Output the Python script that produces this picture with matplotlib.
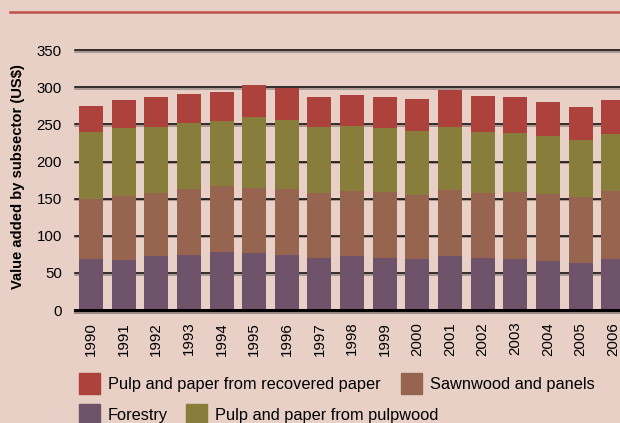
import matplotlib
matplotlib.use("Agg")
import matplotlib.pyplot as plt
import matplotlib.patheffects as pe
from matplotlib.lines import Line2D
from matplotlib.patches import Rectangle
import numpy as np

plt.rcParams["font.family"] = ["Liberation Sans", "DejaVu Sans"]

years = [str(y) for y in range(1990, 2007)]
forestry = [68.7, 67.4, 72.8, 74.1, 78.2, 76.8, 74.1, 70.1, 72.8, 70.1,
            68.7, 72.8, 70.1, 68.7, 66.0, 63.3, 68.7]
sawnwood = [80.9, 86.7, 84.9, 89.0, 88.9, 87.6, 89.0, 87.6, 87.6, 88.9,
            86.3, 88.9, 87.6, 90.3, 90.3, 89.0, 91.7]
pulpwood = [90.7, 91.2, 88.9, 88.9, 87.6, 95.7, 92.9, 88.9, 87.6, 86.3,
            86.2, 84.9, 82.2, 79.5, 78.2, 76.8, 76.8]
recovered = [34.6, 37.7, 40.4, 39.0, 39.1, 43.1, 43.6, 40.4, 41.7, 41.7,
             43.1, 49.9, 48.5, 48.5, 45.8, 44.5, 45.8]
yticks = [0, 50, 100, 150, 200, 250, 300, 350]

series_names = ["Forestry", "Sawnwood and panels",
                "Pulp and paper from pulpwood", "Pulp and paper from recovered paper"]
colors = ["#6e536b", "#97654f", "#897d3b", "#ad413c"]
bg = "#e8d0c7"

fig = plt.figure(figsize=(6.2, 4.23), dpi=100, facecolor=bg)
ax = fig.add_axes([75 / 620, 113 / 423, 545 / 620, 259.8 / 423])
ax.set_facecolor(bg)

x = np.arange(len(years))
bottom = np.zeros(len(years))
for vals, col, name in zip([forestry, sawnwood, pulpwood, recovered], colors, series_names):
    ax.bar(x, vals, width=0.735, bottom=bottom, color=col, label=name, zorder=3)
    bottom += np.array(vals)

# gridlines with a small grey shadow underneath
shadow = [pe.SimpleLineShadow(offset=(0, -1.2), shadow_color="#7a6a66", alpha=0.7), pe.Normal()]
for t in yticks:
    ax.axhline(t, color="black", lw=2.2 if t == 0 else 1.1, zorder=1 if t else 4,
               clip_on=False, path_effects=shadow)

ax.set_xlim(-0.49, 16.21)
ax.set_ylim(0, 350)
ax.set_xticks(x)
ax.set_xticklabels(years, rotation=90, fontsize=10.8)
ax.set_yticks(yticks)
ax.set_yticklabels([str(t) for t in yticks], fontsize=10.8)
ax.tick_params(axis="x", length=0, pad=8.5)
ax.tick_params(axis="y", length=0, pad=9.5)
for s in ax.spines.values():
    s.set_visible(False)

fig.text(18 / 620, 1 - 177 / 423, "Value added by subsector (US$)", rotation=90,
         ha="center", va="center", fontsize=10.6, fontweight="bold")

# top rule
fig.add_artist(Line2D([9.5 / 620, 1], [1 - 12 / 423, 1 - 12 / 423],
                      color="#c0504d", lw=1.8, transform=fig.transFigure))

# legend laid out by hand: two rows with their own column positions
legend_items = [(3, 79, 373), (1, 401, 373), (0, 79, 404), (2, 186, 404)]
for idx, px, py in legend_items:
    fig.add_artist(Rectangle((px / 620, 1 - (py + 21) / 423), 21 / 620, 21 / 423,
                             color=colors[idx], transform=fig.transFigure))
    fig.text((px + 29) / 620, 1 - (py + 11) / 423, series_names[idx],
             ha="left", va="center", fontsize=11.8)

fig.savefig("out.png", dpi=100, facecolor=bg)
